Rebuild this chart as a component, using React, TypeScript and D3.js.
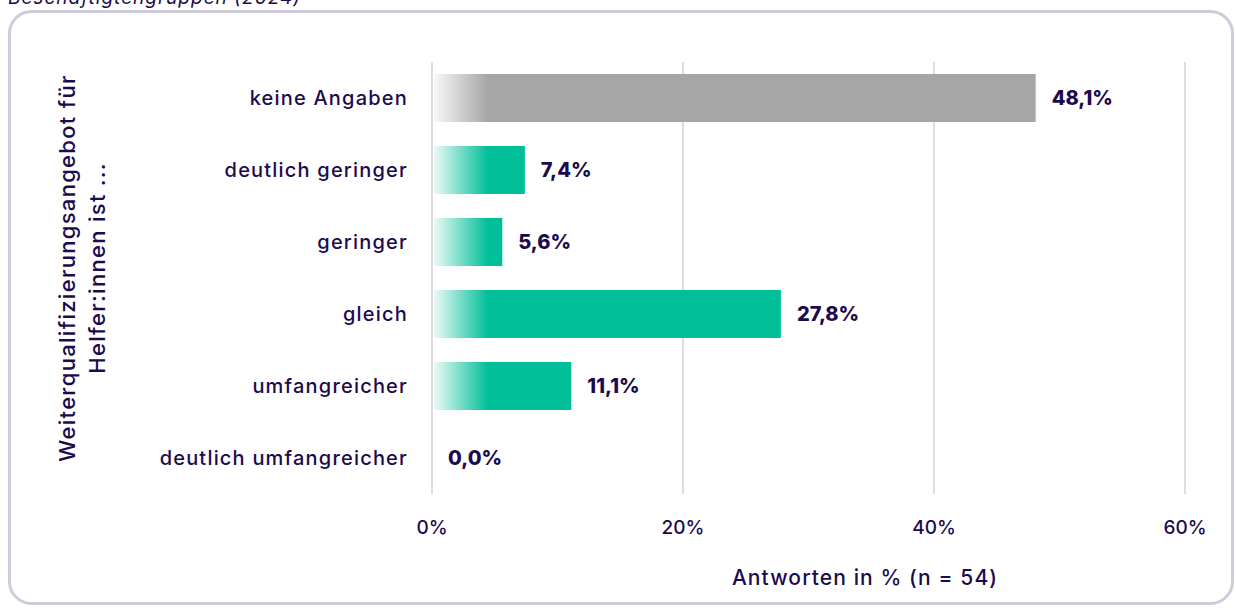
import React from "react";
import * as d3 from "d3";

const categories = ["keine Angaben", "deutlich geringer", "geringer", "gleich", "umfangreicher", "deutlich umfangreicher"];
const values = [48.1, 7.4, 5.6, 27.8, 11.1, 0.0];
const barColors = ["#a6a6a6", "#00bf98", "#00bf98", "#00bf98", "#00bf98", "#00bf98"];
const xTicks = [0, 20, 40, 60];
const yTitleLines = ["Weiterqualifizierungsangebot für", "Helfer:innen ist ..."];
const xTitle = "Antworten in % (n = 54)";
const topText = "Beschäftigtengruppen (2024)";

const W = 1236, H = 608;
const FONT = "Inter, 'Open Sans', sans-serif";
const TEXT = "#1b0b4d";

export default function App() {
  const x = d3.scaleLinear().domain([0, 60]).range([432, 1185]);
  const y = d3.scaleBand().domain(categories).range([62, 494]).paddingInner(1 / 3).paddingOuter(1 / 6);
  const fmt = (v: number) => v.toFixed(1).replace(".", ",") + "%";
  const g0 = x(0) + 2, g1 = x(0) + 56;
  return (
    <svg width={W} height={H} style={{ position: "absolute", left: 0, top: 0 }} fontFamily={FONT}>
      <defs>
        {categories.map((c, i) => (
          <linearGradient key={c} id={`g${i}`} gradientUnits="userSpaceOnUse" x1={g0} x2={g1} y1={0} y2={0}>
            <stop offset="0" stopColor={barColors[i]} stopOpacity={0.08} />
            <stop offset="1" stopColor={barColors[i]} stopOpacity={1} />
          </linearGradient>
        ))}
      </defs>
      <rect x={0} y={0} width={W} height={H} fill="#fff" />
      <text x={8} y={4} fontSize={19} fontStyle="italic" fill={TEXT} letterSpacing={1}>{topText}</text>
      <rect x={9.5} y={11.5} width={1223} height={592} rx={22} fill="#fff" stroke="#cfcbdc" strokeWidth={3} />
      {xTicks.map((t) => (
        <line key={t} x1={x(t)} x2={x(t)} y1={62} y2={494} stroke="#dedede" strokeWidth={2} />
      ))}
      {categories.map((c, i) => {
        const yy = y(c)!;
        const bw = y.bandwidth();
        return (
          <g key={c}>
            {values[i] > 0 && (
              <rect x={x(0) + 2} y={yy} width={x(values[i]) - x(0) - 2} height={bw} fill={`url(#g${i})`} />
            )}
            <text x={408} y={yy + bw / 2} dy="0.35em" textAnchor="end" fontSize={20} letterSpacing={1.2} fill={TEXT} fontWeight={500}>{c}</text>
            <text x={x(values[i]) + 16} y={yy + bw / 2} dy="0.35em" fontSize={20} fontWeight={800} fill={TEXT}>{fmt(values[i])}</text>
          </g>
        );
      })}
      {xTicks.map((t) => (
        <text key={t} x={x(t)} y={527} dy="0.35em" textAnchor="middle" fontSize={19} fill={TEXT} fontWeight={500}>{t}%</text>
      ))}
      <text x={865} y={578} dy="0.35em" textAnchor="middle" fontSize={21} letterSpacing={1.1} fill={TEXT} fontWeight={500}>{xTitle}</text>
      <g transform="translate(82,268) rotate(-90)">
        {yTitleLines.map((l, i) => (
          <text key={i} x={0} y={(i - 0.5) * 30} dy="0.35em" textAnchor="middle" fontSize={22} letterSpacing={1.3} fill={TEXT} fontWeight={500}>{l}</text>
        ))}
      </g>
    </svg>
  );
}
